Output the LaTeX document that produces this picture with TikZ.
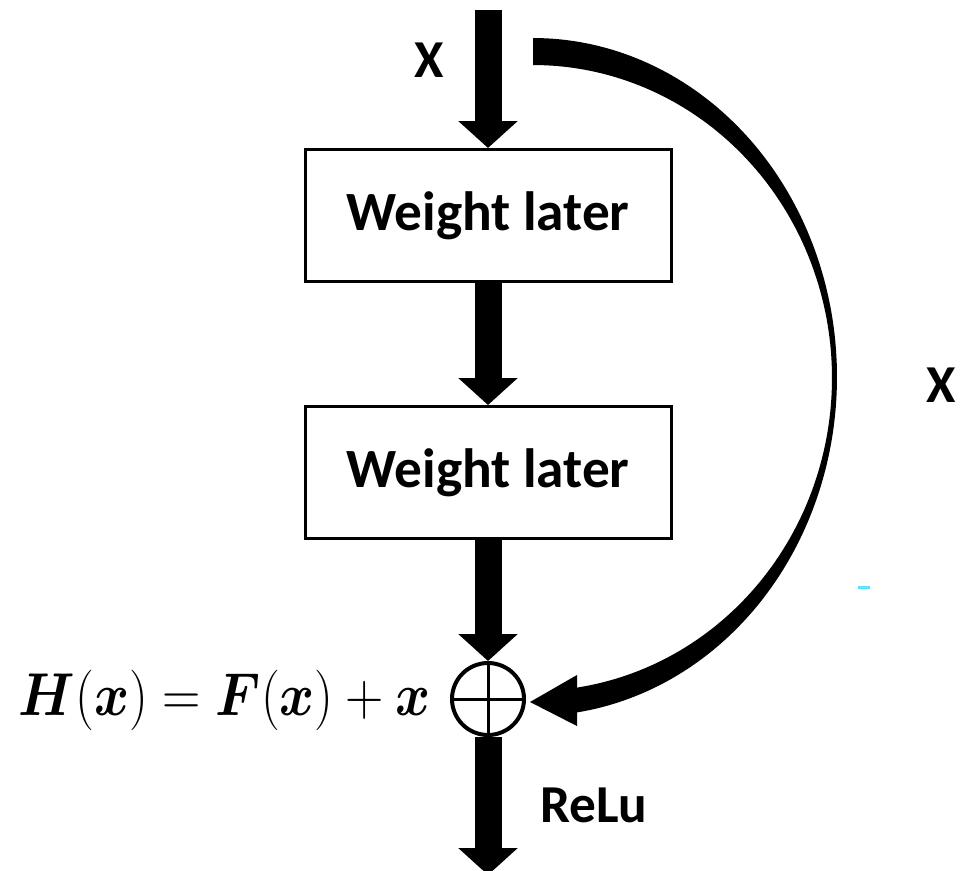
\RequirePackage{fix-cm}
\documentclass[tikz,border=0pt]{standalone}
\usepackage{amsmath,amsbsy,graphicx}
\usepackage[no-math]{fontspec}
\newfontfamily\carlito{Carlito}
\usetikzlibrary{arrows.meta}
\begin{document}
\begin{tikzpicture}[x=0.75pt,y=-0.75pt,
  lbl/.style={font=\carlito\bfseries\fontsize{40}{48}\selectfont, inner sep=0pt},
  wbox/.style={draw, line width=2.25pt, minimum width=274.5pt, minimum height=99pt,
    inner sep=0pt, font=\carlito\bfseries\fontsize{41.5}{48}\selectfont},
  sumc/.style={circle, draw, line width=3pt, minimum size=54pt, inner sep=0pt},
  bigarrow/.style={line width=20.25pt, -{Triangle[width=43.5pt,length=20.25pt]}},
  cross/.style={line width=2.25pt}]
\useasboundingbox (0,0) rectangle (968,871);
% nodes
\coordinate (in) at (488,10);
\node[wbox] (w1) at (488,215.5) {Weight later};
\node[wbox] (w2) at (488,472.5) {Weight later};
\node[sumc] (s) at (488,699) {};
\coordinate (out) at (488,875);
% straight arrows
\draw[bigarrow] (in) -- (w1.north);
\draw[bigarrow] (w1.south) -- (w2.north);
\draw[bigarrow] (w2.south) -- (s.north);
\draw[bigarrow] (s.south) -- (out);
% cross in the sum
\draw[cross] (s.north) -- (s.south) (s.west) -- (s.east);
% skip connection (tapered curve)
\coordinate (skipstart) at (533,51);
\coordinate (skiptip) at (530,702);
\fill plot[domain=-90:81.7,samples=140,variable=\t] ({533+304*cos(\t)},{377+339*sin(\t)})
  -- plot[domain=81.5:-90,samples=140,variable=\t] ({533+299*cos(\t)},{378+313*sin(\t)})
  -- cycle;
\fill (skiptip) -- (577,675) -- (577,726) -- cycle;
% labels
\node[lbl] (xtop) at (429,60) {X};
\node[lbl] (xright) at (941,385) {X};
\node[lbl, anchor=west] (relu) at (540,805) {ReLu};
\node[inner sep=0pt, anchor=base east, font=\fontsize{44}{52}\selectfont] (eq) at (431,715)
  {\resizebox{309pt}{34pt}{$\boldsymbol{H}(\boldsymbol{x}) = \boldsymbol{F}(\boldsymbol{x}) + \boldsymbol{x}$}};
% small cyan mark
\fill[fill={rgb,255:red,90;green,230;blue,250}] (858,586) rectangle (870,589);
\end{tikzpicture}
\end{document}
